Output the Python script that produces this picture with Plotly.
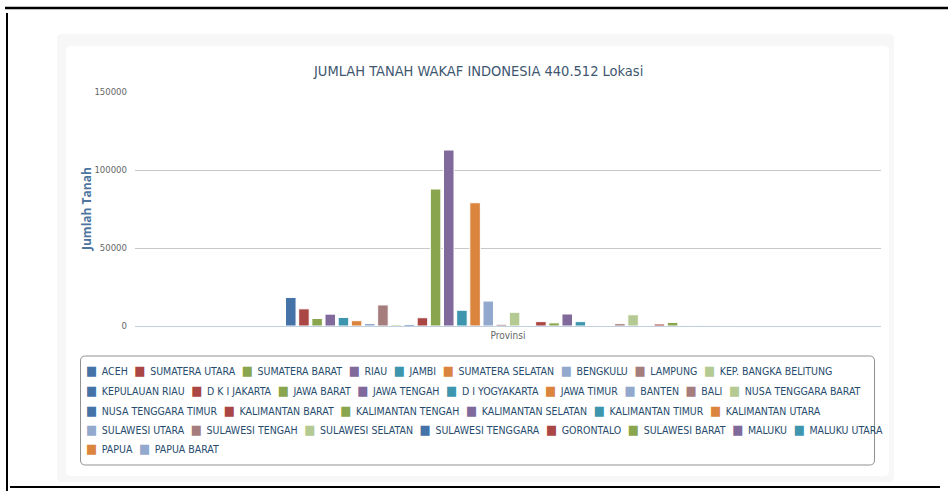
import plotly.graph_objects as go

# ---------------- data ----------------
provinces = ["ACEH", "SUMATERA UTARA", "SUMATERA BARAT", "RIAU", "JAMBI", "SUMATERA SELATAN",
             "BENGKULU", "LAMPUNG", "KEP. BANGKA BELITUNG", "KEPULAUAN RIAU", "D K I JAKARTA",
             "JAWA BARAT", "JAWA TENGAH", "D I YOGYAKARTA", "JAWA TIMUR", "BANTEN", "BALI",
             "NUSA TENGGARA BARAT", "NUSA TENGGARA TIMUR", "KALIMANTAN BARAT", "KALIMANTAN TENGAH",
             "KALIMANTAN SELATAN", "KALIMANTAN TIMUR", "KALIMANTAN UTARA", "SULAWESI UTARA",
             "SULAWESI TENGAH", "SULAWESI SELATAN", "SULAWESI TENGGARA", "GORONTALO",
             "SULAWESI BARAT", "MALUKU", "MALUKU UTARA", "PAPUA", "PAPUA BARAT"]
jumlah = [18300, 11000, 4800, 7600, 5500, 3400, 1600, 13500, 900, 1000, 5300,
          87800, 112800, 10100, 79000, 16000, 1100, 8800, 300, 2800, 2000,
          7700, 2800, 300, 300, 1500, 7200, 300, 1300, 2300, 200, 200, 200, 100]
category = ["Provinsi"]
y_ticks = [0, 50000, 100000, 150000]
legend_row_sizes = [9, 9, 6, 8, 2]
title_text = "JUMLAH TANAH WAKAF INDONESIA 440.512 Lokasi"
y_title = "Jumlah Tanah"

palette = ['#4572A7', '#AA4643', '#89A54E', '#80699B', '#3D96AE',
           '#DB843D', '#92A8CD', '#A47D7C', '#B5CA92']

# ---------------- geometry ----------------
W_PX, H_PX = 948, 491
L, R, T, B = 135, 881, 92, 326
NARROW = "Liberation Sans Narrow, DejaVu Sans Condensed, Arial Narrow, Open Sans, sans-serif"


def px(xp):
    return (xp - L) / (R - L)


def py(yp):
    return (B - yp) / (B - T)


def rrect(x0, y0, x1, y1, r):
    pts = [
        ("M", [(x0 + r, y0)]),
        ("L", [(x1 - r, y0)]),
        ("Q", [(x1, y0), (x1, y0 + r)]),
        ("L", [(x1, y1 - r)]),
        ("Q", [(x1, y1), (x1 - r, y1)]),
        ("L", [(x0 + r, y1)]),
        ("Q", [(x0, y1), (x0, y1 - r)]),
        ("L", [(x0, y0 + r)]),
        ("Q", [(x0, y0), (x0 + r, y0)]),
    ]
    s = ""
    for cmd, ps in pts:
        s += cmd + " ".join(f"{px(a):.5f},{py(b):.5f}" for a, b in ps)
    return s + "Z"


fig = go.Figure()
for i, (name, val) in enumerate(zip(provinces, jumlah)):
    fig.add_trace(go.Bar(
        x=category, y=[val], name=name,
        marker=dict(color=palette[i % len(palette)], line=dict(color="white", width=1)),
        showlegend=False,
    ))

shapes = [
    # outer grey panel
    dict(type="path", xref="paper", yref="paper", path=rrect(57, 34, 894, 482, 5),
         fillcolor="#f7f7f7", line=dict(width=0), layer="below"),
    # white chart area
    dict(type="path", xref="paper", yref="paper", path=rrect(66, 46, 889, 476, 5),
         fillcolor="#ffffff", line=dict(width=0), layer="below"),
    # legend box
    dict(type="path", xref="paper", yref="paper", path=rrect(80.5, 356, 874.5, 465, 5),
         fillcolor="rgba(0,0,0,0)", line=dict(color="#909090", width=1), layer="above"),
    # black frame lines of the screenshot
    dict(type="line", xref="paper", yref="paper", x0=px(5), x1=px(948), y0=py(8), y1=py(8),
         line=dict(color="black", width=2.5)),
    dict(type="line", xref="paper", yref="paper", x0=px(7), x1=px(7), y0=py(13), y1=py(491),
         line=dict(color="black", width=2)),
    dict(type="line", xref="paper", yref="paper", x0=px(10), x1=px(940), y0=py(487), y1=py(487),
         line=dict(color="black", width=2)),
]

annotations = [
    dict(text=title_text, x=px(478), y=py(71), xref="paper", yref="paper",
         showarrow=False, xanchor="center", yanchor="middle",
         font=dict(family=NARROW, size=14.5, color="#3E576F")),
    dict(text=f"<b>{y_title}</b>", x=px(86), y=py(209), xref="paper", yref="paper",
         showarrow=False, textangle=-90, xanchor="center", yanchor="middle",
         font=dict(family="Open Sans, sans-serif", size=12, color="#4d759e")),
]

# legend rows as text
row_y = [370.7, 390.5, 410, 429.3, 448.5]
idx = 0
for r, n in enumerate(legend_row_sizes):
    parts = []
    for k in range(idx, idx + n):
        c = palette[k % len(palette)]
        parts.append(f"<span style='color:{c};font-size:13px'>■</span>\u2002{provinces[k]}")
    idx += n
    annotations.append(dict(
        text="\u2002\u2009".join(parts), x=px(84), y=py(row_y[r]), xref="paper", yref="paper",
        showarrow=False, xanchor="left", yanchor="middle", align="left",
        font=dict(family=NARROW, size=10.5, color="#274b6d")))

fig.update_layout(
    width=W_PX, height=H_PX, autosize=False,
    margin=dict(l=L, r=W_PX - R, t=T, b=H_PX - B, pad=0),
    paper_bgcolor="white", plot_bgcolor="rgba(0,0,0,0)",
    barmode="group", bargap=0.4, bargroupgap=0.2,
    showlegend=False,
    shapes=shapes, annotations=annotations,
    font=dict(family=NARROW, size=10, color="#666666"),
    xaxis=dict(showline=True, linecolor="#C0D0E0", linewidth=1, ticks="",
               showgrid=False, tickfont=dict(family=NARROW, size=10, color="#666666")),
    yaxis=dict(range=[0, 150000], tickvals=y_ticks, ticktext=[str(v) for v in y_ticks],
               showgrid=True, gridcolor="#C8C8C8", gridwidth=1, zeroline=False,
               showline=False, ticks="", ticklabelstandoff=7,
               tickfont=dict(family=NARROW, size=9.5, color="#666666")),
)

fig.write_html("out.html")
